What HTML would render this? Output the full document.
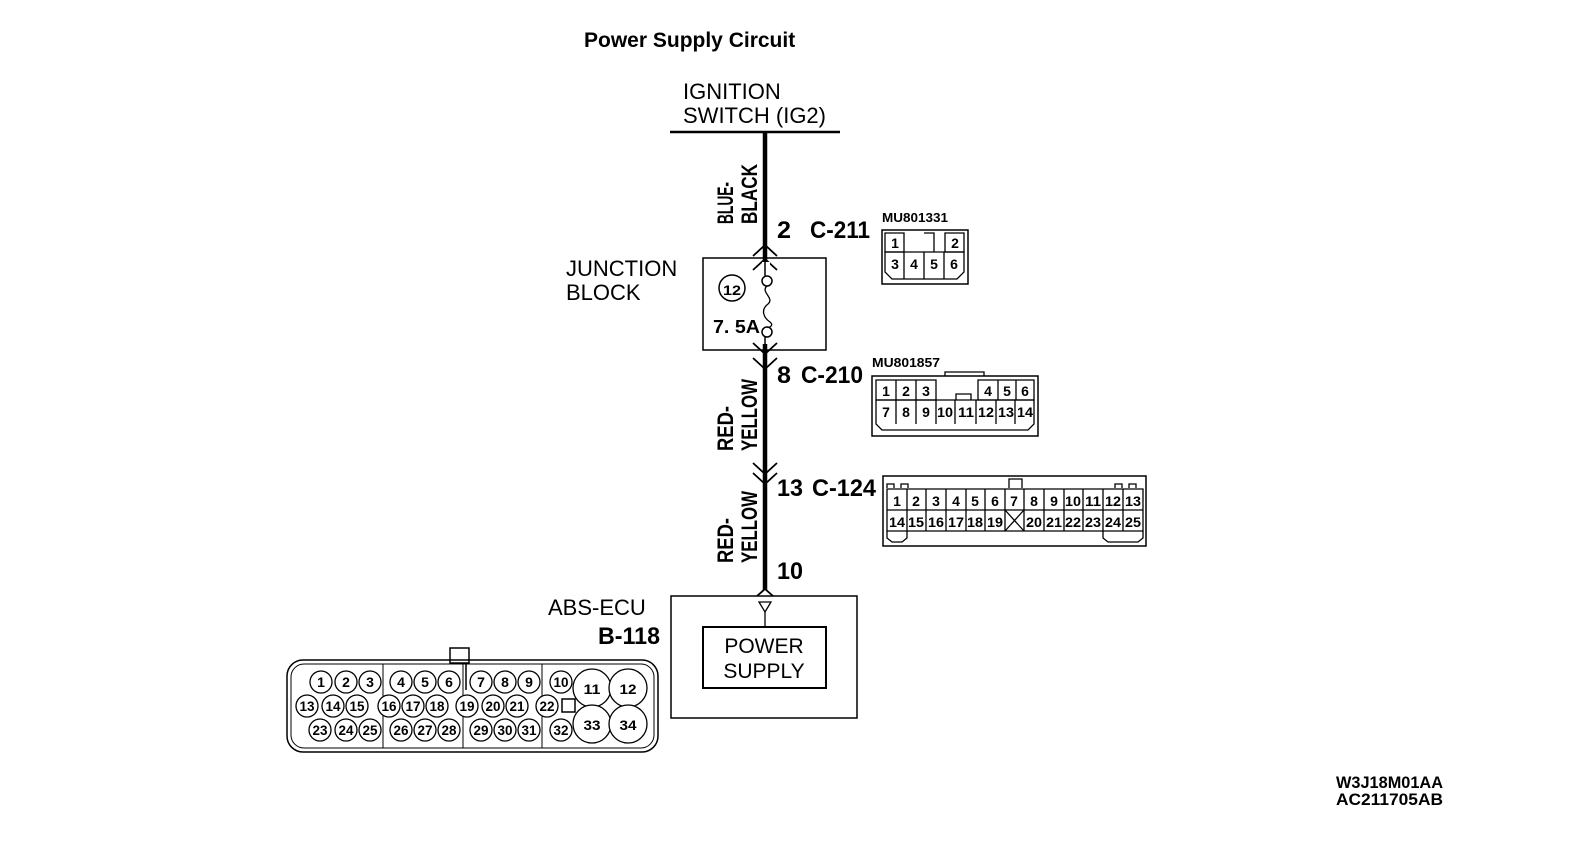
<!DOCTYPE html>
<html><head><meta charset="utf-8"><style>
html,body{margin:0;padding:0;background:#fff;}
svg{display:block;}
text{font-family:"Liberation Sans",sans-serif;fill:#000;}
.b{font-weight:bold;}
.p{font-weight:bold;font-size:14px;text-anchor:middle;}
</style></head><body>
<svg width="1584" height="844" viewBox="0 0 1584 844" xmlns="http://www.w3.org/2000/svg">
<text x="584" y="47" class="b" font-size="21">Power Supply Circuit</text>
<text x="683" y="99" font-size="22">IGNITION</text>
<text x="683" y="123" font-size="22">SWITCH (IG2)</text>
<line x1="670" y1="132" x2="840" y2="132" stroke="#000" stroke-width="2.5"/>
<line x1="765" y1="132" x2="765" y2="590" stroke="#000" stroke-width="4.5"/>
<!-- wire labels -->
<g class="b" font-size="22">
<text transform="translate(733,224) rotate(-90)" textLength="42" lengthAdjust="spacingAndGlyphs">BLUE-</text>
<text transform="translate(757,224) rotate(-90)" textLength="60" lengthAdjust="spacingAndGlyphs">BLACK</text>
<text transform="translate(733,451) rotate(-90)" textLength="45" lengthAdjust="spacingAndGlyphs">RED-</text>
<text transform="translate(757,451) rotate(-90)" textLength="72" lengthAdjust="spacingAndGlyphs">YELLOW</text>
<text transform="translate(733,563) rotate(-90)" textLength="45" lengthAdjust="spacingAndGlyphs">RED-</text>
<text transform="translate(757,563) rotate(-90)" textLength="72" lengthAdjust="spacingAndGlyphs">YELLOW</text>
</g>
<!-- chevrons -->
<g fill="none" stroke="#000" stroke-width="1.8">
<polyline points="753,256 765,245 777,256"/>
<polyline points="753,270 765,259 777,270"/>
<polyline points="753,343 765,354 777,343"/>
<polyline points="753,358 765,369 777,358"/>
<polyline points="753,463 765,474 777,463"/>
<polyline points="753,473 765,484 777,473"/>
<polyline points="757,596 765,589 773,596"/>
</g>
<!-- connector labels -->
<g class="b" font-size="24">
<text x="777" y="238" textLength="14" lengthAdjust="spacingAndGlyphs">2</text>
<text x="810" y="238" textLength="60" lengthAdjust="spacingAndGlyphs">C-211</text>
<text x="777" y="383" textLength="14" lengthAdjust="spacingAndGlyphs">8</text>
<text x="801" y="383" textLength="62" lengthAdjust="spacingAndGlyphs">C-210</text>
<text x="777" y="496" textLength="26" lengthAdjust="spacingAndGlyphs">13</text>
<text x="812" y="496" textLength="64" lengthAdjust="spacingAndGlyphs">C-124</text>
<text x="777" y="579" textLength="26" lengthAdjust="spacingAndGlyphs">10</text>
<text x="598" y="644" textLength="62" lengthAdjust="spacingAndGlyphs">B-118</text>
</g>
<!-- junction block -->
<text x="566" y="276" font-size="22">JUNCTION</text>
<text x="566" y="300" font-size="22">BLOCK</text>
<rect x="703" y="258" width="123" height="92" fill="none" stroke="#000" stroke-width="1.5"/>
<rect x="762" y="262" width="8" height="82" fill="#fff"/>
<circle cx="732" cy="288" r="13" fill="none" stroke="#000" stroke-width="1.5"/>
<text x="732" y="295" class="p" font-size="17" textLength="18" lengthAdjust="spacingAndGlyphs">12</text>
<circle cx="767" cy="281" r="5" fill="#fff" stroke="#000" stroke-width="1.5"/>
<circle cx="767" cy="332" r="5" fill="#fff" stroke="#000" stroke-width="1.5"/>
<path d="M767,286 C760,292 775,298 768,304 C760,310 764,318 770,322 C774,325 770,328 767,327" fill="none" stroke="#000" stroke-width="1.3"/>
<line x1="765" y1="337" x2="765" y2="352" stroke="#000" stroke-width="1.5"/>
<line x1="765" y1="262" x2="765" y2="276" stroke="#000" stroke-width="1.5"/>
<text x="713" y="333" class="b" font-size="18" textLength="47" lengthAdjust="spacingAndGlyphs">7. 5A</text>
<!-- C-211 connector -->
<text x="882" y="222" class="b" font-size="13" textLength="66" lengthAdjust="spacingAndGlyphs">MU801331</text>
<rect x="882" y="230" width="86" height="54" fill="none" stroke="#000" stroke-width="1.5"/>
<g fill="none" stroke="#000" stroke-width="1.3">
<path d="M885,233 H904 V252 H885 Z M945,233 H964 V252 H945 Z M924,233 H934 V252"/>
<path d="M885,252 H964 V272 L957,279 H892 L885,272 Z M904,252 V279 M924,252 V279 M944,252 V279"/>
</g>
<g class="p" font-size="14">
<text x="895" y="248">1</text><text x="955" y="248">2</text>
<text x="895" y="269">3</text><text x="914" y="269">4</text><text x="934" y="269">5</text><text x="954" y="269">6</text>
</g>
<!-- C-210 connector -->
<text x="872" y="367" class="b" font-size="13" textLength="68" lengthAdjust="spacingAndGlyphs">MU801857</text>
<rect x="872" y="376" width="166" height="60" fill="none" stroke="#000" stroke-width="1.5"/>
<path d="M945,376 V372 H984 V376" fill="none" stroke="#000" stroke-width="1.3"/>
<g fill="none" stroke="#000" stroke-width="1.3">
<path d="M876,380 H936 V400 H876 Z M896,380 V400 M916,380 V400"/>
<path d="M978,380 H1034 V400 H978 Z M998,380 V400 M1016,380 V400"/>
<path d="M956,400 V394 H971 V400"/>
<path d="M876,400 H1034 V424 L1028,430 H882 L876,424 Z"/>
<path d="M896,400 V424 M916,400 V424 M936,400 V424 M955,400 V424 M976,400 V424 M996,400 V424 M1015,400 V424"/>
</g>
<g class="p" font-size="14">
<text x="886" y="396">1</text><text x="906" y="396">2</text><text x="926" y="396">3</text>
<text x="988" y="396">4</text><text x="1007" y="396">5</text><text x="1025" y="396">6</text>
<text x="886" y="417">7</text><text x="906" y="417">8</text><text x="926" y="417">9</text>
<text x="945" y="417" textLength="16" lengthAdjust="spacingAndGlyphs">10</text><text x="966" y="417" textLength="16" lengthAdjust="spacingAndGlyphs">11</text>
<text x="986" y="417" textLength="16" lengthAdjust="spacingAndGlyphs">12</text><text x="1006" y="417" textLength="16" lengthAdjust="spacingAndGlyphs">13</text><text x="1025" y="417" textLength="16" lengthAdjust="spacingAndGlyphs">14</text>
</g>
<!-- C-124 connector -->
<rect x="883" y="476" width="263" height="70" fill="none" stroke="#000" stroke-width="1.5"/>
<g fill="none" stroke="#000" stroke-width="1.3">
<path d="M1009,488 V479 H1022 V488"/>
<path d="M887,488 V484 H894 V488 M1129,488 V484 H1136 V488 M901,488 V484 H908 V488 M1115,488 V484 H1122 V488"/>
<path d="M887,489 H1143 V531 H887 Z M887,510 H1143"/>
<path d="M907,489 V531 M926,489 V531 M946,489 V531 M966,489 V531 M985,489 V531 M1005,489 V531 M1024,489 V531 M1044,489 V531 M1064,489 V531 M1083,489 V531 M1103,489 V531 M1123,489 V531"/>
<path d="M1005,510 L1024,531 M1024,510 L1005,531"/>
<path d="M887,531 V538 L892,542 H902 L907,538 V531 M1103,531 V538 L1108,542 H1138 L1143,538 V531"/>
</g>
<g class="p" font-size="14">
<text x="897" y="506">1</text><text x="916" y="506">2</text><text x="936" y="506">3</text><text x="956" y="506">4</text><text x="975" y="506">5</text><text x="995" y="506">6</text><text x="1014" y="506">7</text><text x="1034" y="506">8</text><text x="1054" y="506">9</text>
<text x="1073" y="506" textLength="16" lengthAdjust="spacingAndGlyphs">10</text><text x="1093" y="506" textLength="16" lengthAdjust="spacingAndGlyphs">11</text><text x="1113" y="506" textLength="16" lengthAdjust="spacingAndGlyphs">12</text><text x="1133" y="506" textLength="16" lengthAdjust="spacingAndGlyphs">13</text>
</g>
<g class="p" font-size="14">
<text x="897" y="527" textLength="16" lengthAdjust="spacingAndGlyphs">14</text><text x="916" y="527" textLength="16" lengthAdjust="spacingAndGlyphs">15</text><text x="936" y="527" textLength="16" lengthAdjust="spacingAndGlyphs">16</text><text x="956" y="527" textLength="16" lengthAdjust="spacingAndGlyphs">17</text><text x="975" y="527" textLength="16" lengthAdjust="spacingAndGlyphs">18</text><text x="995" y="527" textLength="16" lengthAdjust="spacingAndGlyphs">19</text>
<text x="1034" y="527" textLength="16" lengthAdjust="spacingAndGlyphs">20</text><text x="1054" y="527" textLength="16" lengthAdjust="spacingAndGlyphs">21</text><text x="1073" y="527" textLength="16" lengthAdjust="spacingAndGlyphs">22</text><text x="1093" y="527" textLength="16" lengthAdjust="spacingAndGlyphs">23</text><text x="1113" y="527" textLength="16" lengthAdjust="spacingAndGlyphs">24</text><text x="1133" y="527" textLength="16" lengthAdjust="spacingAndGlyphs">25</text>
</g>
<!-- ABS-ECU -->
<text x="548" y="615" font-size="22">ABS-ECU</text>
<rect x="671" y="596" width="186" height="122" fill="none" stroke="#000" stroke-width="1.5"/>
<polygon points="759,602 771,602 765,612" fill="none" stroke="#000" stroke-width="1.3"/>
<line x1="765" y1="612" x2="765" y2="627" stroke="#000" stroke-width="1.3"/>
<rect x="703" y="627" width="123" height="61" fill="none" stroke="#000" stroke-width="2"/>
<text x="764" y="653" font-size="21" text-anchor="middle">POWER</text>
<text x="764" y="678" font-size="21" text-anchor="middle">SUPPLY</text>
<!-- B-118 connector -->
<g fill="none" stroke="#000" stroke-width="1.5">
<rect x="287" y="660" width="371" height="92" rx="16"/>
<rect x="291" y="664" width="363" height="84" rx="13" stroke-width="1"/>
<rect x="450" y="648" width="19" height="15"/>
<line x1="466" y1="663" x2="466" y2="690"/>
<path d="M383,664 V748 M463,664 V748 M542,664 V748" stroke-width="1"/>
<rect x="562" y="699" width="13" height="13"/>
</g>
<g fill="#fff" stroke="#000" stroke-width="1.3">
<circle cx="321" cy="682" r="11"/><circle cx="346" cy="682" r="11"/><circle cx="370" cy="682" r="11"/>
<circle cx="401" cy="682" r="11"/><circle cx="425" cy="682" r="11"/><circle cx="449" cy="682" r="11"/>
<circle cx="481" cy="682" r="11"/><circle cx="505" cy="682" r="11"/><circle cx="529" cy="682" r="11"/>
<circle cx="561" cy="682" r="11"/>
<circle cx="307" cy="706" r="11"/><circle cx="333" cy="706" r="11"/><circle cx="357" cy="706" r="11"/>
<circle cx="389" cy="706" r="11"/><circle cx="413" cy="706" r="11"/><circle cx="437" cy="706" r="11"/>
<circle cx="467" cy="706" r="11"/><circle cx="493" cy="706" r="11"/><circle cx="517" cy="706" r="11"/>
<circle cx="547" cy="706" r="11"/>
<circle cx="320" cy="730" r="11"/><circle cx="346" cy="730" r="11"/><circle cx="370" cy="730" r="11"/>
<circle cx="401" cy="730" r="11"/><circle cx="425" cy="730" r="11"/><circle cx="449" cy="730" r="11"/>
<circle cx="481" cy="730" r="11"/><circle cx="505" cy="730" r="11"/><circle cx="529" cy="730" r="11"/>
<circle cx="561" cy="730" r="11"/>
<circle cx="592" cy="688" r="19"/><circle cx="628" cy="688" r="19"/>
<circle cx="592" cy="724" r="19"/><circle cx="628" cy="724" r="19"/>
</g>
<g class="p" font-size="14">
<text x="321" y="687">1</text><text x="346" y="687">2</text><text x="370" y="687">3</text>
<text x="401" y="687">4</text><text x="425" y="687">5</text><text x="449" y="687">6</text>
<text x="481" y="687">7</text><text x="505" y="687">8</text><text x="529" y="687">9</text>
<text x="561" y="687" textLength="15" lengthAdjust="spacingAndGlyphs">10</text>
<text x="307" y="711" textLength="15" lengthAdjust="spacingAndGlyphs">13</text><text x="333" y="711" textLength="15" lengthAdjust="spacingAndGlyphs">14</text><text x="357" y="711" textLength="15" lengthAdjust="spacingAndGlyphs">15</text>
<text x="389" y="711" textLength="15" lengthAdjust="spacingAndGlyphs">16</text><text x="413" y="711" textLength="15" lengthAdjust="spacingAndGlyphs">17</text><text x="437" y="711" textLength="15" lengthAdjust="spacingAndGlyphs">18</text>
<text x="467" y="711" textLength="15" lengthAdjust="spacingAndGlyphs">19</text><text x="493" y="711" textLength="15" lengthAdjust="spacingAndGlyphs">20</text><text x="517" y="711" textLength="15" lengthAdjust="spacingAndGlyphs">21</text>
<text x="547" y="711" textLength="15" lengthAdjust="spacingAndGlyphs">22</text>
<text x="320" y="735" textLength="15" lengthAdjust="spacingAndGlyphs">23</text><text x="346" y="735" textLength="15" lengthAdjust="spacingAndGlyphs">24</text><text x="370" y="735" textLength="15" lengthAdjust="spacingAndGlyphs">25</text>
<text x="401" y="735" textLength="15" lengthAdjust="spacingAndGlyphs">26</text><text x="425" y="735" textLength="15" lengthAdjust="spacingAndGlyphs">27</text><text x="449" y="735" textLength="15" lengthAdjust="spacingAndGlyphs">28</text>
<text x="481" y="735" textLength="15" lengthAdjust="spacingAndGlyphs">29</text><text x="505" y="735" textLength="15" lengthAdjust="spacingAndGlyphs">30</text><text x="529" y="735" textLength="15" lengthAdjust="spacingAndGlyphs">31</text>
<text x="561" y="735" textLength="15" lengthAdjust="spacingAndGlyphs">32</text>
<text x="592" y="694" textLength="17" lengthAdjust="spacingAndGlyphs">11</text><text x="628" y="694" textLength="17" lengthAdjust="spacingAndGlyphs">12</text>
<text x="592" y="730" textLength="17" lengthAdjust="spacingAndGlyphs">33</text><text x="628" y="730" textLength="17" lengthAdjust="spacingAndGlyphs">34</text>
</g>
<!-- codes -->
<text x="1336" y="788" class="b" font-size="17" textLength="107" lengthAdjust="spacingAndGlyphs">W3J18M01AA</text>
<text x="1336" y="805" class="b" font-size="17" textLength="107" lengthAdjust="spacingAndGlyphs">AC211705AB</text>
</svg>
</body></html>
